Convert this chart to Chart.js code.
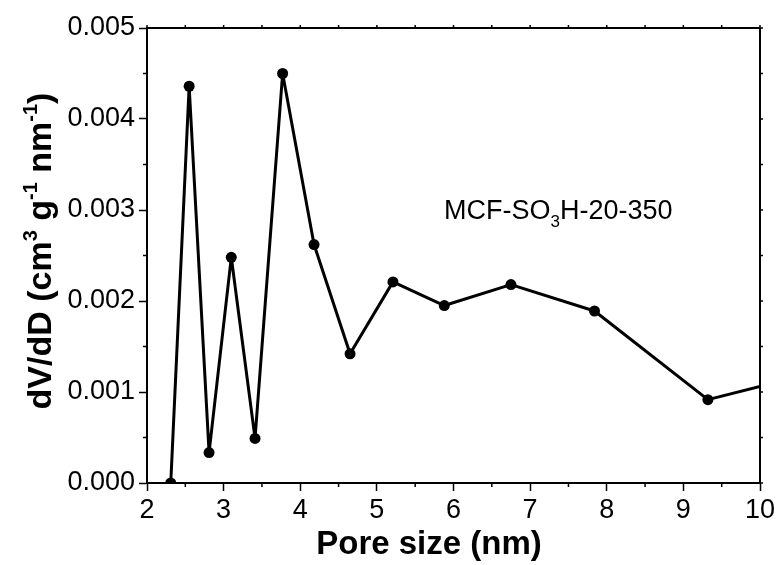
<!DOCTYPE html>
<html>
<head>
<meta charset="utf-8">
<script src="https://cdn.jsdelivr.net/npm/chart.js@4.4.0/dist/chart.umd.min.js"></script>
<style>
  body { margin: 0; background: #fff; }
  #poreChart { display: block; }
</style>
</head>
<body>
<canvas id="poreChart" width="779" height="565"></canvas>
<script>
// BJH pore size distribution, MCF-SO3H-20-350
const poreSize = [2.31, 2.55, 2.81, 3.10, 3.41, 3.77, 4.18, 4.65, 5.21, 5.88, 6.75, 7.84, 9.32, 10];
const dVdD = [0, 0.00436, 0.000334, 0.00248, 0.00049, 0.0045, 0.00262, 0.00142, 0.00221, 0.00195, 0.00218, 0.00189, 0.000916, 0.00106];
// last point only carries the line to the axis edge, no marker
const markerSize = [5.5, 5.5, 5.5, 5.5, 5.5, 5.5, 5.5, 5.5, 5.5, 5.5, 5.5, 5.5, 5.5, 0];

const xTicks = [2, 3, 4, 5, 6, 7, 8, 9, 10];
const yTicks = [0, 0.001, 0.002, 0.003, 0.004, 0.005];

const FONT = "'Liberation Sans', Arial, sans-serif";

// draw a run of text pieces, some raised or lowered (super/subscripts)
function drawRich(ctx, parts, x, y, align) {
    let total = 0;
    parts.forEach(p => { ctx.font = p.font; total += ctx.measureText(p.text).width; });
    let cx = align === "center" ? x - total / 2 : x;
    parts.forEach(p => {
        ctx.font = p.font;
        ctx.fillText(p.text, cx, y + (p.shift || 0));
        cx += ctx.measureText(p.text).width;
    });
}

const framePlugin = {
    id: "frame",
    afterDraw(chart) {
        const ctx = chart.ctx;
        const a = chart.chartArea;
        const xs = chart.scales.x;
        const ys = chart.scales.y;
        ctx.save();
        ctx.strokeStyle = "#000";
        ctx.fillStyle = "#000";

        // top and right frame lines
        ctx.lineWidth = 2;
        ctx.beginPath();
        ctx.moveTo(a.left, a.top);
        ctx.lineTo(a.right, a.top);
        ctx.lineTo(a.right, a.bottom);
        ctx.stroke();

        ctx.lineWidth = 1.5;
        ctx.beginPath();
        // minor ticks, bottom and left
        for (let v = 2.5; v < 10; v += 1) {
            const px = xs.getPixelForValue(v);
            ctx.moveTo(px, a.bottom);
            ctx.lineTo(px, a.bottom + 4);
        }
        for (let v = 0.0005; v < 0.005; v += 0.001) {
            const py = ys.getPixelForValue(v);
            ctx.moveTo(a.left, py);
            ctx.lineTo(a.left - 4, py);
        }
        // short ticks on the top and right edges
        for (let v = 2; v <= 10.001; v += 0.5) {
            const px = xs.getPixelForValue(v);
            ctx.moveTo(px, a.top);
            ctx.lineTo(px, a.top - 3);
        }
        for (let v = 0; v <= 0.00501; v += 0.0005) {
            const py = ys.getPixelForValue(v);
            ctx.moveTo(a.right, py);
            ctx.lineTo(a.right + 3, py);
        }
        ctx.stroke();

        // axis titles
        ctx.textBaseline = "alphabetic";
        ctx.textAlign = "left";
        drawRich(ctx, [{ text: "Pore size (nm)", font: "bold 33px " + FONT }], 429, 554, "center");

        ctx.save();
        ctx.translate(51, 251);
        ctx.rotate(-Math.PI / 2);
        const big = "bold 34px " + FONT;
        const sup = "bold 20px " + FONT;
        drawRich(ctx, [
            { text: "dV/dD (cm", font: big },
            { text: "3", font: sup, shift: -14 },
            { text: " g", font: big },
            { text: "-1", font: sup, shift: -14 },
            { text: " nm", font: big },
            { text: "-1", font: sup, shift: -14 },
            { text: ")", font: big }
        ], 0, 0, "center");
        ctx.restore();

        // sample label
        const lx = xs.getPixelForValue(5.876);
        const ly = ys.getPixelForValue(0.0029);
        drawRich(ctx, [
            { text: "MCF-SO", font: "27px " + FONT },
            { text: "3", font: "17px " + FONT, shift: 8 },
            { text: "H-20-350", font: "27px " + FONT }
        ], lx, ly, "left");

        ctx.restore();
    }
};

const ctx = document.getElementById("poreChart").getContext("2d");

new Chart(ctx, {
    type: "line",
    data: {
        datasets: [{
            data: poreSize.map((x, i) => ({ x: x, y: dVdD[i] })),
            borderColor: "#000",
            backgroundColor: "#000",
            borderWidth: 3,
            borderJoinStyle: "round",
            pointRadius: markerSize,
            pointHoverRadius: markerSize,
            pointBackgroundColor: "#000",
            pointBorderWidth: 0,
            tension: 0,
            clip: 0
        }]
    },
    options: {
        responsive: false,
        animation: false,
        events: [],
        layout: { padding: { left: 0, top: 28, right: 19, bottom: 0 } },
        plugins: {
            legend: { display: false },
            tooltip: { enabled: false }
        },
        scales: {
            x: {
                type: "linear",
                min: 2,
                max: 10,
                afterFit(scale) { scale.height = 82; },
                afterBuildTicks(scale) { scale.ticks = xTicks.map(v => ({ value: v })); },
                ticks: {
                    color: "#000",
                    padding: 3,
                    font: { family: FONT, size: 27 },
                    callback: v => String(v)
                },
                grid: {
                    drawOnChartArea: false,
                    drawTicks: true,
                    tickLength: 8,
                    tickWidth: 1.5,
                    tickColor: "#000"
                },
                border: { display: true, color: "#000", width: 2 }
            },
            y: {
                type: "linear",
                min: 0,
                max: 0.005,
                afterFit(scale) { scale.width = 147; },
                afterBuildTicks(scale) { scale.ticks = yTicks.map(v => ({ value: v })); },
                ticks: {
                    color: "#000",
                    padding: 4,
                    font: { family: FONT, size: 27 },
                    callback: v => v.toFixed(3)
                },
                grid: {
                    drawOnChartArea: false,
                    drawTicks: true,
                    tickLength: 8,
                    tickWidth: 1.5,
                    tickColor: "#000"
                },
                border: { display: true, color: "#000", width: 2 }
            }
        }
    },
    plugins: [framePlugin]
});
</script>
</body>
</html>
